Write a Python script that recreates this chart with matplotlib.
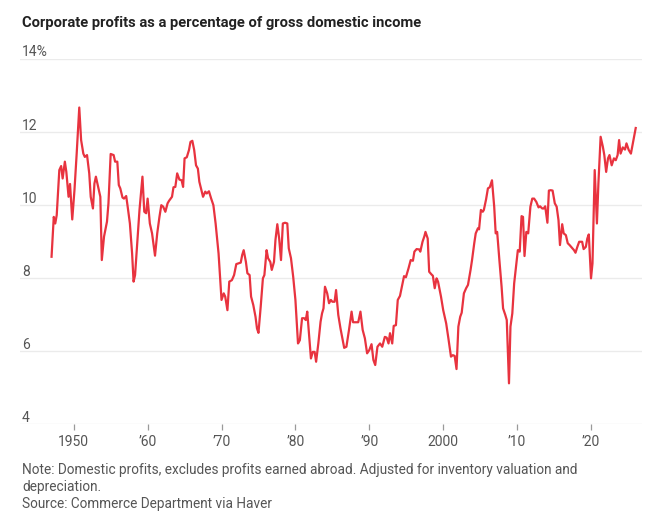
#!/usr/bin/env python3
"""
Corporate profits as a share of gross domestic income, 1947-2025.
Redrawn as a single-line chart in the WSJ style; writes out.png.
"""

from __future__ import annotations

import matplotlib

matplotlib.use("Agg")
import matplotlib.pyplot as plt
import matplotlib.transforms as mtransforms

# values (fractional year, percent of GDI)
years = [
    1947.0, 1947.3, 1947.5, 1947.7, 1948.05, 1948.3, 1948.5, 1948.8, 1949.0, 1949.3,
    1949.5, 1949.8, 1950.1, 1950.4, 1950.75, 1951.0, 1951.3, 1951.5, 1951.8, 1952.1,
    1952.3, 1952.6, 1952.8, 1953.0, 1953.3, 1953.6, 1953.8, 1954.1, 1954.5, 1954.7,
    1955.0, 1955.4, 1955.6, 1955.9, 1956.1, 1956.3, 1956.6, 1956.8, 1957.1, 1957.3,
    1957.6, 1957.9, 1958.1, 1958.3, 1958.6, 1958.9, 1959.3, 1959.55, 1959.8, 1960.0,
    1960.3, 1960.6, 1961.0, 1961.3, 1961.6, 1961.85, 1962.1, 1962.4, 1962.7, 1962.9,
    1963.3, 1963.5, 1963.75, 1964.0, 1964.3, 1964.6, 1964.8, 1965.0, 1965.3, 1965.6,
    1965.8, 1966.05, 1966.3, 1966.55, 1966.8, 1967.0, 1967.5, 1967.8, 1968.0, 1968.3,
    1968.6, 1968.9, 1969.2, 1969.6, 1970.0, 1970.3, 1970.5, 1970.8, 1971.05, 1971.4,
    1971.7, 1972.0, 1972.3, 1972.6, 1972.8, 1973.0, 1973.3, 1973.5, 1973.8, 1974.0,
    1974.3, 1974.6, 1974.8, 1975.0, 1975.3, 1975.6, 1975.8, 1976.1, 1976.3, 1976.6,
    1976.8, 1977.1, 1977.3, 1977.55, 1977.8, 1978.05, 1978.3, 1978.6, 1978.9, 1979.1,
    1979.4, 1979.7, 1980.0, 1980.35, 1980.6, 1980.9, 1981.2, 1981.4, 1981.6, 1981.8,
    1982.1, 1982.35, 1982.6, 1982.8, 1983.1, 1983.4, 1983.6, 1983.8, 1984.0, 1984.3,
    1984.55, 1984.8, 1985.0, 1985.3, 1985.5, 1985.8, 1986.1, 1986.4, 1986.6, 1986.9,
    1987.25, 1987.6, 1987.8, 1988.2, 1988.5, 1988.8, 1989.1, 1989.4, 1989.7, 1990.0,
    1990.3, 1990.55, 1990.8, 1991.1, 1991.45, 1991.75, 1992.1, 1992.35, 1992.6, 1992.8,
    1993.1, 1993.3, 1993.6, 1993.85, 1994.15, 1994.4, 1994.7, 1994.95, 1995.3, 1995.6,
    1995.9, 1996.1, 1996.4, 1996.75, 1996.9, 1997.2, 1997.45, 1997.6, 1997.9, 1998.1,
    1998.4, 1998.6, 1998.85, 1999.1, 1999.3, 1999.7, 2000.0, 2000.4, 2000.7, 2001.05,
    2001.3, 2001.55, 2001.8, 2002.05, 2002.3, 2002.5, 2002.8, 2003.1, 2003.35, 2003.7,
    2003.9, 2004.2, 2004.4, 2004.7, 2004.85, 2005.1, 2005.35, 2005.5, 2005.8, 2006.05,
    2006.3, 2006.6, 2006.9, 2007.1, 2007.3, 2007.6, 2007.9, 2008.1, 2008.4, 2008.6,
    2008.9, 2009.1, 2009.35, 2009.6, 2009.85, 2010.1, 2010.35, 2010.6, 2010.8, 2011.0,
    2011.25, 2011.5, 2011.8, 2012.05, 2012.3, 2012.6, 2012.9, 2013.1, 2013.4, 2013.6,
    2013.8, 2014.1, 2014.3, 2014.55, 2014.8, 2015.1, 2015.35, 2015.6, 2015.8, 2016.1,
    2016.3, 2016.6, 2016.85, 2017.1, 2017.4, 2017.7, 2017.9, 2018.15, 2018.4, 2018.6,
    2018.8, 2019.0, 2019.3, 2019.5, 2019.7, 2020.0, 2020.2, 2020.5, 2020.8, 2021.0,
    2021.3, 2021.6, 2021.8, 2022.05, 2022.3, 2022.5, 2022.8, 2023.1, 2023.35, 2023.6,
    2023.8, 2024.0, 2024.3, 2024.6, 2024.8, 2025.1, 2025.4, 2025.7, 2026.05,
]
profit_share = [
    8.58, 9.67, 9.49, 9.72, 10.95, 11.06, 10.72, 11.18, 10.90, 10.22,
    10.57, 9.60, 10.40, 11.40, 12.66, 11.77, 11.40, 11.31, 11.36, 10.86,
    10.22, 9.90, 10.58, 10.77, 10.49, 10.22, 8.49, 9.13, 9.54, 10.04,
    11.39, 11.36, 11.18, 11.18, 10.54, 10.45, 10.20, 10.17, 10.24, 9.95,
    9.49, 8.67, 7.90, 8.08, 8.95, 9.86, 10.77, 9.81, 9.77, 10.17,
    9.49, 9.22, 8.61, 9.22, 9.67, 9.99, 9.95, 9.81, 10.04, 10.11,
    10.22, 10.48, 10.49, 10.86, 10.69, 10.67, 10.49, 11.27, 11.30, 11.50,
    11.72, 11.75, 11.50, 11.08, 10.99, 10.63, 10.22, 10.36, 10.31, 10.37,
    10.17, 9.99, 9.49, 8.67, 7.40, 7.58, 7.49, 7.12, 7.90, 7.94,
    8.08, 8.38, 8.40, 8.42, 8.63, 8.76, 8.44, 8.13, 8.08, 7.49,
    7.26, 6.94, 6.62, 6.50, 7.21, 7.99, 8.08, 8.76, 8.54, 8.44,
    8.22, 8.44, 9.04, 9.47, 9.08, 8.49, 9.49, 9.51, 9.49, 8.81,
    8.54, 8.03, 7.40, 6.21, 6.30, 6.90, 6.90, 6.85, 7.08, 6.58,
    5.80, 5.98, 5.98, 5.71, 6.21, 6.80, 7.03, 7.17, 7.76, 7.58,
    7.31, 7.40, 7.35, 7.35, 7.67, 6.99, 6.62, 6.30, 6.09, 6.12,
    6.58, 7.08, 6.79, 6.79, 6.79, 7.08, 6.58, 6.35, 5.94, 6.03,
    6.19, 5.76, 5.62, 6.12, 6.21, 6.12, 6.39, 6.37, 6.21, 6.49,
    6.21, 6.69, 6.71, 7.40, 7.51, 7.76, 8.05, 8.02, 8.26, 8.49,
    8.47, 8.72, 8.79, 8.78, 8.72, 8.99, 9.14, 9.26, 9.08, 8.17,
    8.10, 8.06, 7.72, 7.99, 7.90, 7.49, 7.12, 6.76, 6.35, 5.85,
    5.89, 5.87, 5.51, 6.67, 6.94, 7.05, 7.58, 7.72, 7.81, 8.22,
    8.49, 8.95, 9.22, 9.36, 9.33, 9.86, 9.81, 9.86, 10.15, 10.45,
    10.48, 10.67, 9.95, 9.22, 9.26, 8.49, 7.76, 7.17, 6.99, 6.85,
    5.12, 6.67, 7.03, 7.85, 8.31, 8.76, 8.72, 9.69, 9.67, 8.60,
    9.26, 9.22, 9.95, 10.17, 10.17, 10.08, 9.93, 9.96, 9.90, 9.90,
    9.96, 9.51, 10.39, 10.40, 10.39, 10.04, 9.95, 9.58, 8.90, 9.47,
    9.22, 9.17, 8.95, 8.90, 8.83, 8.76, 8.69, 8.85, 8.99, 8.99,
    8.99, 8.79, 8.85, 9.08, 9.19, 7.99, 8.40, 10.95, 9.49, 10.58,
    11.86, 11.59, 11.36, 10.90, 11.27, 11.36, 11.08, 11.27, 11.22, 11.36,
    11.77, 11.40, 11.57, 11.51, 11.68, 11.50, 11.40, 11.72, 12.10,
]

y_ticks = [4, 6, 8, 10, 12, 14]
y_tick_labels = ["4", "6", "8", "10", "12", "14%"]
x_ticks = [1950, 1960, 1970, 1980, 1990, 2000, 2010, 2020]
x_tick_labels = ["1950", "\u201960", "\u201970", "\u201980", "\u201990", "2000", "\u201910", "\u201920"]

TITLE = "Corporate profits as a percentage of gross domestic income"
NOTE_LINES = [
    "Note: Domestic profits, excludes profits earned abroad. Adjusted for inventory valuation and",
    "depreciation.",
    "Source: Commerce Department via Haver",
]

RED = "#e8333f"
GRID = "#ebebeb"
GREY_TEXT = "#555555"
FONT = ["Roboto", "DejaVu Sans"]


def make_figure(png_path: str) -> None:
    plt.rcParams["font.family"] = FONT
    W, H = 666, 526
    fig = plt.figure(figsize=(W / 100, H / 100), dpi=100)

    # axes box in pixels: x 20..642, y 58.5 (14%) .. 424.3 (4)
    left, right, top, bottom = 20, 642, 58.5, 424.3
    ax = fig.add_axes([left / W, 1 - bottom / H, (right - left) / W, (bottom - top) / H])

    ax.plot(years, profit_share, color=RED, linewidth=1.6, solid_joinstyle="round", zorder=3)

    ax.set_ylim(4, 14)
    ax.set_xlim(1942.73, 2026.9)

    for v in y_ticks:
        ax.axhline(v, color=GRID, linewidth=1.0, zorder=1)

    for side in ("top", "right", "left", "bottom"):
        ax.spines[side].set_visible(False)

    ax.set_yticks([])
    ax.set_xticks(x_ticks)
    ax.set_xticklabels(x_tick_labels)
    ax.tick_params(axis="x", length=4, width=0.9, color="#9a9a9a", pad=4,
                   labelsize=10, labelcolor=GREY_TEXT)

    # y labels sit just above their gridline at the left edge (about 2 px up)
    trans = mtransforms.blended_transform_factory(fig.transFigure, ax.transData)
    trans = trans + mtransforms.ScaledTranslation(0, 2 / 100, fig.dpi_scale_trans)
    for v, lab in zip(y_ticks, y_tick_labels):
        ax.text(22 / W, v, lab, transform=trans, ha="left", va="baseline",
                fontsize=10, color=GREY_TEXT)

    fig.text(22 / W, 1 - 26.7 / H, TITLE, ha="left", va="baseline",
             fontsize=10.6, fontweight="bold", color="#222222")

    for base, line in zip([474, 491, 508], NOTE_LINES):
        fig.text(22 / W, 1 - base / H, line, ha="left", va="baseline",
                 fontsize=9.85, color=GREY_TEXT)

    fig.savefig(png_path, dpi=100)
    plt.close(fig)


def main() -> None:
    make_figure("out.png")


if __name__ == "__main__":
    main()
